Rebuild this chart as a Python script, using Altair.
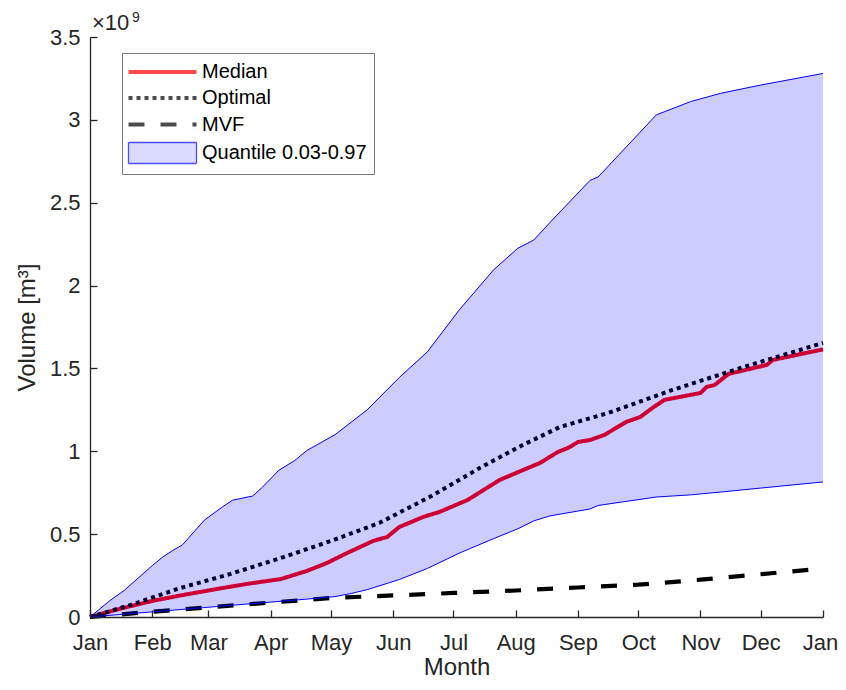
import json
import altair as alt
import pandas as pd

# ---------------- data (values in units of 1e9 m^3, x in day of year) ----------------
MONTH_DAYS = [0, 31, 59, 90, 120, 151, 181, 212, 243, 273, 304, 334, 365]
MONTH_LABELS = ["Jan", "Feb", "Mar", "Apr", "May", "Jun", "Jul", "Aug", "Sep", "Oct", "Nov", "Dec", "Jan"]
Y_TICKS = [0, 0.5, 1, 1.5, 2, 2.5, 3, 3.5]

SERIES = ["Median", "Optimal", "MVF", "Quantile 0.03-0.97"]

MEDIAN_DAY = [0, 15, 31, 45, 59, 66, 80, 95, 108, 118, 128, 141, 148, 154, 166, 174, 188, 204, 218,
              224, 233, 238, 243, 249, 256, 267, 274, 280, 286, 304, 307, 311, 318, 337, 340, 365]
MEDIAN_VAL = [0, 0.05, 0.097, 0.13, 0.16, 0.175, 0.203, 0.229, 0.278, 0.326, 0.386, 0.459, 0.483,
              0.543, 0.604, 0.634, 0.706, 0.827, 0.899, 0.929, 0.996, 1.02, 1.056, 1.068, 1.098,
              1.177, 1.207, 1.261, 1.31, 1.352, 1.388, 1.40, 1.467, 1.521, 1.551, 1.615]

OPTIMAL_DAY = [0, 20, 45, 70, 95, 120, 144, 170, 194, 215, 234, 258, 290, 324, 365]
OPTIMAL_VAL = [0, 0.072, 0.175, 0.26, 0.356, 0.459, 0.567, 0.73, 0.899, 1.035, 1.147, 1.231, 1.37, 1.503, 1.654]

MVF_DAY = [0, 31, 59, 90, 120, 151, 181, 212, 243, 273, 304, 334, 365]
MVF_VAL = [0, 0.032, 0.058, 0.087, 0.115, 0.13, 0.145, 0.16, 0.178, 0.195, 0.225, 0.258, 0.293]

QUANT_DAY = [0, 10, 17, 24, 31, 36, 41, 46, 57, 66, 71, 81, 86, 94, 102, 108, 122, 130, 138, 154,
             168, 184, 201, 213, 221, 229, 249, 253, 282, 299, 314, 334, 365]
QUANT_HIGH = [0, 0.10, 0.16, 0.235, 0.31, 0.36, 0.40, 0.435, 0.585, 0.665, 0.705, 0.73, 0.785, 0.885,
              0.945, 1.005, 1.10, 1.175, 1.25, 1.445, 1.60, 1.855, 2.095, 2.225, 2.275, 2.38, 2.635,
              2.655, 3.03, 3.11, 3.16, 3.21, 3.28]
QUANT_LOW = [0, 0.01, 0.017, 0.024, 0.031, 0.036, 0.041, 0.046, 0.057, 0.066, 0.071, 0.081, 0.086,
             0.094, 0.102, 0.108, 0.123, 0.142, 0.165, 0.226, 0.293, 0.386, 0.473, 0.532, 0.58, 0.61,
             0.652, 0.673, 0.724, 0.737, 0.754, 0.778, 0.815]

# ---------------- styles ----------------
FONT = "Liberation Sans"
AXIS_COLOR = "#262626"
SERIES_STROKE = ["#ff0000", "#000000", "#000000", "#0000ff"]
SERIES_FILL = ["transparent", "transparent", "transparent", "#ccccff"]
SERIES_DASH = [[1, 0], [4, 4], [16, 16], [1, 0]]
SERIES_WIDTH = [4, 4, 4.2, 1.3]
LINE_PATH = "M-1,0H5.8"
RECT_PATH = "M-1,-1.05H5.8V1.05H-1Z"
SERIES_SHAPE = [LINE_PATH, LINE_PATH, LINE_PATH, RECT_PATH]

lines_df = pd.concat([
    pd.DataFrame({"day": MEDIAN_DAY, "volume": MEDIAN_VAL, "series": "Median"}),
    pd.DataFrame({"day": OPTIMAL_DAY, "volume": OPTIMAL_VAL, "series": "Optimal"}),
    pd.DataFrame({"day": MVF_DAY, "volume": MVF_VAL, "series": "MVF"}),
], ignore_index=True)
quant_df = pd.DataFrame({"day": QUANT_DAY, "low": QUANT_LOW, "high": QUANT_HIGH})
legend_df = pd.DataFrame({"series": SERIES})

x_scale = alt.Scale(domain=[0, 365], nice=False, zero=False)
y_scale = alt.Scale(domain=[0, 3.5], nice=False, zero=False)
stroke_scale = alt.Scale(domain=SERIES, range=SERIES_STROKE)
fill_scale = alt.Scale(domain=SERIES, range=SERIES_FILL)
dash_scale = alt.Scale(domain=SERIES, range=SERIES_DASH)
width_scale = alt.Scale(type="ordinal", domain=SERIES, range=SERIES_WIDTH)
shape_scale = alt.Scale(domain=SERIES, range=SERIES_SHAPE)

legend = alt.Legend(
    title=None, orient="none", legendX=32, legendY=16,
    symbolSize=400, symbolOffset=-3, labelOffset=51,
    symbolFillColor="transparent",
    labelFont=FONT, labelFontSize=20, labelColor="#000000", labelLimit=400,
    padding=7, rowPadding=4, strokeColor="#7a7a7a", fillColor="#ffffff", cornerRadius=0,
)

label_expr = "{}[indexof({}, datum.value)]".format(json.dumps(MONTH_LABELS), json.dumps(MONTH_DAYS))

main_x_axis = alt.Axis(
    orient="bottom", values=MONTH_DAYS, labelExpr=label_expr, ticks=False, tickSize=0,
    labelPadding=15, labelFlush=False, labelOverlap=False, labelBound=False,
    labelOffset={"condition": {"test": "datum.value == 365", "value": -3}, "value": 0},
    title="Month", titlePadding=2, grid=False, zindex=1,
)
main_y_axis = alt.Axis(
    orient="left", values=Y_TICKS, format="~g", ticks=False, tickSize=0,
    labelPadding=10, labelFlush=False, labelOverlap=False,
    title="Volume [m³]", titlePadding=10, grid=False, zindex=1,
)
tick_x_axis = alt.Axis(
    orient="top", offset=-580, values=MONTH_DAYS, labels=False, domain=False,
    ticks=True, tickSize=7, tickColor=AXIS_COLOR, tickWidth=1.3, title=None, grid=False, zindex=1,
)
tick_y_axis = alt.Axis(
    orient="right", offset=-733, values=Y_TICKS, labels=False, domain=False,
    ticks=True, tickSize=7, tickColor=AXIS_COLOR, tickWidth=1.3, title=None, grid=False, zindex=1,
)

lines = alt.Chart(lines_df).mark_line(strokeCap="butt").encode(
    x=alt.X("day:Q", scale=x_scale, axis=main_x_axis),
    y=alt.Y("volume:Q", scale=y_scale, axis=main_y_axis),
    stroke=alt.Stroke("series:N", scale=stroke_scale, legend=legend),
    strokeDash=alt.StrokeDash("series:N", scale=dash_scale, legend=legend),
    strokeWidth=alt.StrokeWidth("series:N", scale=width_scale, legend=legend),
)

band = alt.Chart(quant_df).mark_area(fill="#0000ff", fillOpacity=0.2, strokeWidth=0).encode(
    x=alt.X("day:Q", scale=x_scale, axis=tick_x_axis),
    y=alt.Y("low:Q", scale=y_scale, axis=tick_y_axis),
    y2="high:Q",
)

upper_edge = alt.Chart(quant_df).mark_line(color="#0000ff", strokeWidth=1).encode(
    x=alt.X("day:Q", scale=x_scale, axis=None),
    y=alt.Y("high:Q", scale=y_scale, axis=None),
)
lower_edge = alt.Chart(quant_df).mark_line(color="#0000ff", strokeWidth=1).encode(
    x=alt.X("day:Q", scale=x_scale, axis=None),
    y=alt.Y("low:Q", scale=y_scale, axis=None),
)

legend_keys = alt.Chart(legend_df).transform_filter("false").mark_point().encode(
    shape=alt.Shape("series:N", scale=shape_scale, legend=legend),
    stroke=alt.Stroke("series:N", scale=stroke_scale, legend=legend),
    fill=alt.Fill("series:N", scale=fill_scale, legend=legend),
    strokeDash=alt.StrokeDash("series:N", scale=dash_scale, legend=legend),
    strokeWidth=alt.StrokeWidth("series:N", scale=width_scale, legend=legend),
)

# axis exponent label "×10^9" (MATLAB style), placed just above the y axis
exp_base = alt.Chart(legend_df.head(1)).mark_text(
    text="×10", font=FONT, fontSize=22, color=AXIS_COLOR, align="left", baseline="alphabetic"
).encode(x=alt.value(2), y=alt.value(-7))
exp_power = alt.Chart(legend_df.head(1)).mark_text(
    text="9", font=FONT, fontSize=14, color=AXIS_COLOR, align="left", baseline="alphabetic"
).encode(x=alt.value(42), y=alt.value(-15.5))

chart = alt.layer(
    lines, band, upper_edge, lower_edge, legend_keys, exp_base, exp_power
).resolve_axis(
    x="independent", y="independent"
).properties(
    width=733,
    height=580,
    autosize=alt.AutoSizeParams(type="none"),
    padding={"left": 82, "top": 29, "right": 15, "bottom": 64},
).configure_view(
    stroke=None
).configure_axis(
    labelFont=FONT, labelFontSize=22, labelColor=AXIS_COLOR,
    titleFont=FONT, titleFontSize=24, titleColor=AXIS_COLOR, titleFontWeight="normal",
    domainColor=AXIS_COLOR, domainWidth=1.3,
)

chart.save("out.html", embed_options={"renderer": "svg", "actions": False})
